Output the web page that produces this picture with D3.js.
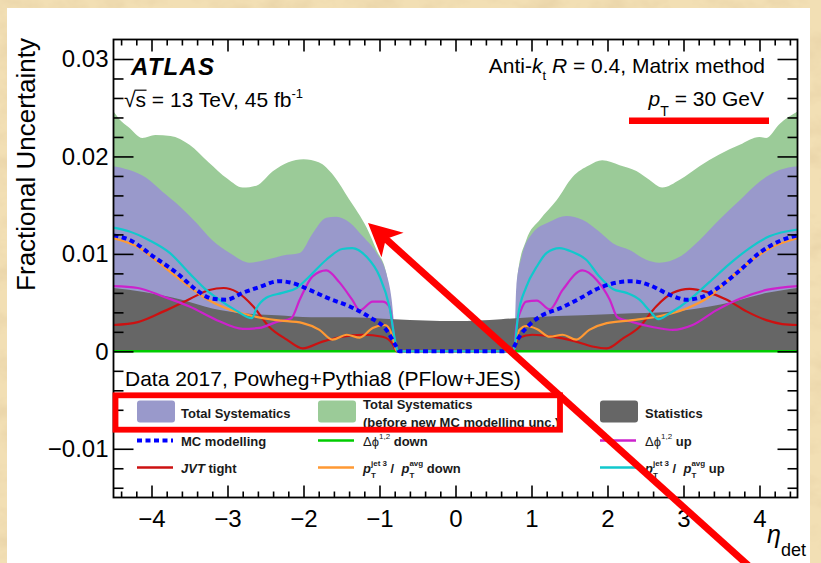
<!DOCTYPE html>
<html>
<head>
<meta charset="utf-8">
<script src="https://cdn.jsdelivr.net/npm/d3@7"></script>
<style>
  html, body { margin: 0; padding: 0; background: #f1dcb0; }
  svg { display: block; }
  text { font-family: "Liberation Sans", Arial, Helvetica, sans-serif; white-space: pre; }
</style>
</head>
<body>
<svg id="chart" width="821" height="563"></svg>
<script>
// ---- axis ticks and labels ----
const xTicks = [-4, -3, -2, -1, 0, 1, 2, 3, 4];
const xTickLabels = ["\u22124", "\u22123", "\u22122", "\u22121", "0", "1", "2", "3", "4"];
const yTicks = [-0.01, 0, 0.01, 0.02, 0.03];
const yTickLabels = ["\u22120.01", "0", "0.01", "0.02", "0.03"];

// ---- uncertainty bands: [eta_det, fractional uncertainty] ----
const totalSystBeforeMC = [
  [-4.5, 0.0246], [-4.42, 0.0238], [-4.3, 0.0230], [-4.12, 0.0219], [-3.95, 0.0222],
  [-3.75, 0.0221], [-3.5, 0.0212], [-3.25, 0.0194], [-3.0, 0.0177], [-2.8, 0.0168],
  [-2.62, 0.0170], [-2.4, 0.0185], [-2.2, 0.0194], [-2.0, 0.0197], [-1.8, 0.0194],
  [-1.6, 0.0180], [-1.4, 0.0156], [-1.17, 0.0127], [-1.04, 0.0104], [-0.91, 0.0080],
  [-0.83, 0.0039], [-0.78, 0], [0.78, 0], [0.82, 0.0080], [0.93, 0.0114],
  [1.11, 0.0135], [1.33, 0.0155], [1.54, 0.0179], [1.76, 0.0191], [1.93, 0.0196],
  [2.16, 0.0191], [2.38, 0.0185], [2.55, 0.0176], [2.72, 0.0168], [2.95, 0.0176],
  [3.21, 0.0190], [3.47, 0.0202], [3.74, 0.0212], [4.0, 0.0220], [4.09, 0.0219],
  [4.26, 0.0233], [4.5, 0.0246]
];
const totalSyst = [
  [-4.5, 0.0190], [-4.29, 0.0186], [-4.07, 0.0178], [-3.86, 0.0164], [-3.63, 0.0149],
  [-3.41, 0.0132], [-3.2, 0.0114], [-2.97, 0.0101], [-2.71, 0.0091], [-2.49, 0.0094],
  [-2.22, 0.0099], [-2.05, 0.0101], [-1.88, 0.0121], [-1.7, 0.0137], [-1.57, 0.0138],
  [-1.39, 0.0132], [-1.22, 0.0118], [-1.04, 0.0101], [-0.91, 0.0080], [-0.84, 0.0053],
  [-0.8, 0.0022], [-0.76, 0], [0.77, 0], [0.8, 0.0066], [0.87, 0.0097],
  [1.01, 0.0121], [1.24, 0.0133], [1.46, 0.0139], [1.67, 0.0135], [1.89, 0.0123],
  [2.07, 0.0111], [2.29, 0.0104], [2.51, 0.0094], [2.68, 0.0091], [2.95, 0.0097],
  [3.21, 0.0114], [3.47, 0.0135], [3.74, 0.0155], [4.0, 0.0174], [4.26, 0.0186],
  [4.5, 0.0190]
];
const statistics = [
  [-4.5, 0.0065], [-4.1, 0.0061], [-3.6, 0.0053], [-3.2, 0.0044], [-2.8, 0.0039],
  [-2.35, 0.0037], [-1.9, 0.0035], [-1.4, 0.0035], [-0.8, 0.0033], [0, 0.0031],
  [0.6, 0.0033], [1.0, 0.0035], [1.67, 0.0037], [2.33, 0.0039], [3.0, 0.0042],
  [3.65, 0.0051], [4.1, 0.0060], [4.5, 0.0065]
];

// ---- individual systematic components ----
const mcModelling = [
  [-4.5, 0.0119], [-4.28, 0.0114], [-3.97, 0.0097], [-3.66, 0.0080], [-3.41, 0.0063],
  [-3.2, 0.0054], [-3.01, 0.0053], [-2.8, 0.0060], [-2.58, 0.0066], [-2.32, 0.0072],
  [-2.14, 0.0070], [-1.92, 0.0063], [-1.66, 0.0054], [-1.39, 0.0046], [-1.13, 0.0035],
  [-0.91, 0.0022], [-0.78, 0.0005], [-0.74, 0], [0.74, 0], [0.76, 0.0003],
  [0.84, 0.0015], [0.97, 0.0027], [1.14, 0.0037], [1.37, 0.0044], [1.63, 0.0054],
  [1.89, 0.0065], [2.16, 0.0071], [2.33, 0.0072], [2.55, 0.0068], [2.82, 0.0058],
  [3.04, 0.0053], [3.25, 0.0056], [3.47, 0.0066], [3.74, 0.0083], [4.0, 0.0101],
  [4.26, 0.0113], [4.5, 0.0119]
];
const dphiDown = [[-4.5, 0], [4.5, 0]];
const dphiUp = [
  [-4.5, 0.0067], [-4.18, 0.0065], [-3.84, 0.0056], [-3.5, 0.0046], [-3.14, 0.0032],
  [-2.8, 0.0023], [-2.58, 0.0024], [-2.36, 0.0030], [-2.16, 0.0034], [-2.05, 0.0053],
  [-1.88, 0.0077], [-1.7, 0.0083], [-1.53, 0.0071], [-1.36, 0.0053], [-1.26, 0.0042],
  [-1.09, 0.0051], [-0.96, 0.0051], [-0.87, 0.0046], [-0.8, 0.0012], [-0.76, 0],
  [0.77, 0], [0.8, 0.0025], [0.86, 0.0042], [0.93, 0.0051], [1.07, 0.0052],
  [1.24, 0.0043], [1.41, 0.0063], [1.67, 0.0083], [1.86, 0.0073], [2.03, 0.0053],
  [2.13, 0.0035], [2.33, 0.0030], [2.59, 0.0025], [2.86, 0.0022], [3.12, 0.0027],
  [3.43, 0.0042], [3.74, 0.0054], [4.09, 0.0063], [4.5, 0.0067]
];
const jvtTight = [
  [-4.5, 0.0027], [-4.18, 0.0030], [-3.84, 0.0041], [-3.49, 0.0054], [-3.24, 0.0063],
  [-3.05, 0.0065], [-2.88, 0.0061], [-2.66, 0.0046], [-2.45, 0.0025], [-2.22, 0.0012],
  [-2.01, 0.0003], [-1.75, 0.0010], [-1.49, 0.0015], [-1.22, 0.0017], [-0.96, 0.0015],
  [-0.83, 0.0008], [-0.77, 0], [0.77, 0], [0.8, 0.0010], [0.84, 0.0014],
  [1.01, 0.0017], [1.28, 0.0015], [1.54, 0.0011], [1.8, 0.0005], [1.99, 0.0003],
  [2.2, 0.0013], [2.42, 0.0025], [2.64, 0.0046], [2.86, 0.0060], [3.08, 0.0064],
  [3.3, 0.0061], [3.57, 0.0053], [3.83, 0.0041], [4.09, 0.0032], [4.3, 0.0028],
  [4.5, 0.0027]
];
const ptRatioDown = [
  [-4.5, 0.0116], [-4.18, 0.0107], [-3.89, 0.0090], [-3.58, 0.0071], [-3.28, 0.0054],
  [-3.01, 0.0044], [-2.71, 0.0037], [-2.36, 0.0032], [-2.01, 0.0029], [-1.79, 0.0022],
  [-1.62, 0.0012], [-1.43, 0.0017], [-1.26, 0.0014], [-1.09, 0.0024], [-0.93, 0.0027],
  [-0.84, 0.0018], [-0.78, 0.0001], [-0.76, 0], [0.76, 0], [0.78, 0.0005],
  [0.84, 0.0022], [0.93, 0.0026], [1.07, 0.0023], [1.24, 0.0015], [1.41, 0.0017],
  [1.59, 0.0012], [1.76, 0.0022], [1.99, 0.0029], [2.33, 0.0032], [2.68, 0.0036],
  [3.04, 0.0044], [3.34, 0.0056], [3.64, 0.0077], [3.91, 0.0094], [4.17, 0.0107],
  [4.5, 0.0116]
];
const ptRatioUp = [
  [-4.5, 0.0127], [-4.29, 0.0123], [-4.03, 0.0114], [-3.76, 0.0101], [-3.5, 0.0080],
  [-3.28, 0.0063], [-3.11, 0.0053], [-2.89, 0.0042], [-2.68, 0.0034], [-2.62, 0.0044],
  [-2.49, 0.0055], [-2.28, 0.0060], [-2.09, 0.0065], [-1.92, 0.0077], [-1.7, 0.0094],
  [-1.49, 0.0105], [-1.36, 0.0106], [-1.17, 0.0097], [-1.0, 0.0077], [-0.87, 0.0046],
  [-0.78, 0.0005], [-0.76, 0], [0.76, 0], [0.78, 0.0005], [0.82, 0.0035],
  [0.93, 0.0066], [1.07, 0.0087], [1.2, 0.0101], [1.37, 0.0106], [1.54, 0.0102],
  [1.72, 0.0094], [1.89, 0.0077], [2.07, 0.0064], [2.25, 0.0060], [2.42, 0.0053],
  [2.55, 0.0042], [2.67, 0.0033], [2.82, 0.0039], [3.08, 0.0053], [3.34, 0.0071],
  [3.61, 0.0090], [3.87, 0.0106], [4.13, 0.0118], [4.5, 0.0125]
];

// ---- colours ----
const colBefore = "#9bcb98", colTotal = "#9999cb", colStat = "#666666";
const colMC = "#0000ff", colDphiDown = "#00cc00", colDphiUp = "#cc22cc";
const colJVT = "#cc1111", colPtDown = "#ff9933", colPtUp = "#11c8cc";
const annot = "#ff0000";

// ---- layout ----
const frame = { left: 113.5, right: 797.5, top: 39.5, bottom: 497.5 };
const svg = d3.select("#chart");

const x = d3.scaleLinear().domain([-4.5, 4.5]).range([frame.left, frame.right]);
const y = d3.scaleLinear().domain([-0.015, 0.032]).range([frame.bottom, frame.top]);

// parchment surround
const defs = svg.append("defs");
const paper = defs.append("filter").attr("id", "paper")
  .attr("x", 0).attr("y", 0).attr("width", "100%").attr("height", "100%");
paper.append("feTurbulence").attr("type", "fractalNoise")
  .attr("baseFrequency", "0.03 0.045").attr("numOctaves", 4).attr("seed", 7);
paper.append("feColorMatrix").attr("type", "matrix")
  .attr("values", "0 0 0 0 0.80  0 0 0 0 0.64  0 0 0 0 0.38  1.7 0 0 0 -0.72");
svg.append("rect").attr("width", 821).attr("height", 563).attr("fill", "#f2dfb4");
svg.append("rect").attr("width", 821).attr("height", 563).attr("filter", "url(#paper)");

// white canvas
svg.append("rect").attr("x", 7).attr("y", 8).attr("width", 803).attr("height", 560).attr("fill", "#ffffff");

defs.append("clipPath").attr("id", "plotClip").append("rect")
  .attr("x", frame.left).attr("y", frame.top)
  .attr("width", frame.right - frame.left).attr("height", frame.bottom - frame.top);

const plot = svg.append("g").attr("clip-path", "url(#plotClip)");

const area = d3.area().x(d => x(d[0])).y0(y(0)).y1(d => y(d[1])).curve(d3.curveMonotoneX);
const line = d3.line().x(d => x(d[0])).y(d => y(d[1])).curve(d3.curveMonotoneX);

plot.append("path").datum(totalSystBeforeMC).attr("d", area).attr("fill", colBefore);
plot.append("path").datum(totalSyst).attr("d", area).attr("fill", colTotal);
plot.append("path").datum(statistics).attr("d", area).attr("fill", colStat);

const lineSeries = [
  { data: dphiDown, color: colDphiDown, width: 2.5 },
  { data: jvtTight, color: colJVT, width: 2.2 },
  { data: dphiUp, color: colDphiUp, width: 2.2 },
  { data: ptRatioDown, color: colPtDown, width: 2.2 },
  { data: ptRatioUp, color: colPtUp, width: 2.2 },
  { data: mcModelling, color: colMC, width: 4, dash: "5 3.5" }
];
lineSeries.forEach(s => {
  plot.append("path").datum(s.data).attr("d", line)
    .attr("fill", "none").attr("stroke", s.color).attr("stroke-width", s.width)
    .attr("stroke-dasharray", s.dash || null);
});

// ---- frame and ticks ----
const axisStyle = g => {
  g.select(".domain").remove();
  g.selectAll("line").attr("stroke", "#000").attr("stroke-width", 1.6);
  g.selectAll("text").attr("fill", "#000").attr("font-size", 24)
    .attr("font-family", "\"Liberation Sans\", Arial, Helvetica, sans-serif");
};
const xMinor = d3.range(-44, 45, 2).filter(v => v % 10 !== 0).map(v => v / 10);
const yMinor = d3.range(-14, 31, 2).filter(v => v % 10 !== 0).map(v => v / 1000);

svg.append("g").attr("transform", `translate(0,${frame.bottom})`)
  .call(d3.axisBottom(x).tickValues(xTicks).tickSize(-12).tickPadding(12)
    .tickFormat((d, i) => xTickLabels[i])).call(axisStyle);
svg.append("g").attr("transform", `translate(0,${frame.bottom})`)
  .call(d3.axisBottom(x).tickValues(xMinor).tickSize(-6).tickFormat("")).call(axisStyle);
svg.append("g").attr("transform", `translate(0,${frame.top})`)
  .call(d3.axisTop(x).tickValues(xTicks).tickSize(-12).tickFormat("")).call(axisStyle);
svg.append("g").attr("transform", `translate(0,${frame.top})`)
  .call(d3.axisTop(x).tickValues(xMinor).tickSize(-6).tickFormat("")).call(axisStyle);

svg.append("g").attr("transform", `translate(${frame.left},0)`)
  .call(d3.axisLeft(y).tickValues(yTicks).tickSize(-20).tickPadding(5)
    .tickFormat((d, i) => yTickLabels[i])).call(axisStyle);
svg.append("g").attr("transform", `translate(${frame.left},0)`)
  .call(d3.axisLeft(y).tickValues(yMinor).tickSize(-10).tickFormat("")).call(axisStyle);
svg.append("g").attr("transform", `translate(${frame.right},0)`)
  .call(d3.axisRight(y).tickValues(yTicks).tickSize(-20).tickFormat("")).call(axisStyle);
svg.append("g").attr("transform", `translate(${frame.right},0)`)
  .call(d3.axisRight(y).tickValues(yMinor).tickSize(-10).tickFormat("")).call(axisStyle);

svg.append("rect").attr("x", frame.left).attr("y", frame.top)
  .attr("width", frame.right - frame.left).attr("height", frame.bottom - frame.top)
  .attr("fill", "none").attr("stroke", "#000").attr("stroke-width", 1.8);

// ---- rich text helper: pieces laid out left to right, sub/superscripts may stack ----
function rich(parent, px, py, pieces, opts) {
  const g = parent.append("g");
  let cursor = 0, prevStart = 0;
  pieces.forEach(p => {
    const start = p.stack ? prevStart : cursor;
    const bold = p.bold !== undefined ? p.bold : !!opts.bold;
    const size = p.size || opts.size;
    const t = g.append("text")
      .attr("x", start).attr("y", p.dy || 0)
      .attr("font-size", size)
      .attr("font-weight", bold ? "bold" : "normal")
      .attr("font-style", p.italic ? "italic" : "normal")
      .attr("letter-spacing", p.spacing || null)
      .attr("fill", opts.fill || "#000")
      .text(p.t);
    const w = t.node().getComputedTextLength();
    if (p.overline) {
      g.append("line").attr("x1", start - 1).attr("x2", start + w + 0.5)
        .attr("y1", -size * 0.8).attr("y2", -size * 0.8)
        .attr("stroke", opts.fill || "#000").attr("stroke-width", 1.2);
    }
    if (p.stack) {
      cursor = Math.max(cursor, start + w);
    } else {
      prevStart = start;
      cursor = start + w;
    }
  });
  const tx = opts.anchor === "end" ? px - cursor : px;
  g.attr("transform", `translate(${tx},${py})`);
  return g;
}

// ---- axis titles ----
svg.append("text")
  .attr("transform", "translate(35,38) rotate(-90)")
  .attr("text-anchor", "end").attr("font-size", 26).attr("fill", "#000")
  .text("Fractional Uncertainty");
rich(svg, 806, 543, [
  { t: "\u03b7", italic: true, size: 25 },
  { t: "det", size: 18, dy: 13 }
], { size: 25, anchor: "end" });

// ---- labels inside the frame ----
rich(svg, 131, 75, [{ t: "ATLAS", italic: true, bold: true, spacing: 1.2 }], { size: 24 });
rich(svg, 124, 107, [
  { t: "\u221a" }, { t: "s", overline: true },
  { t: " = 13 TeV, 45 fb" },
  { t: "-1", size: 13, dy: -9 }
], { size: 21 });
rich(svg, 765, 73, [
  { t: "Anti-" }, { t: "k", italic: true }, { t: "t", size: 13, dy: 7 },
  { t: " " }, { t: "R", italic: true }, { t: " = 0.4, Matrix method" }
], { size: 21, anchor: "end" });
rich(svg, 764, 106, [
  { t: "p", italic: true }, { t: "T", size: 14, dy: 10 }, { t: " = 30 GeV" }
], { size: 21, anchor: "end" });

rich(svg, 125, 386, [{ t: "Data 2017, Powheg+Pythia8 (PFlow+JES)" }], { size: 21 });

// ---- legend ----
const leg = svg.append("g");
const legFont = { size: 13, bold: true, fill: "#1a1a1a" };
const cols = [{ sym: 137, txt: 181 }, { sym: 318, txt: 363 }, { sym: 600, txt: 645 }];
const rows = [412, 440.5, 467.5];

const boxEntries = [
  { col: 0, color: colTotal, text: [[{ t: "Total Systematics" }]] },
  { col: 1, color: colBefore, text: [[{ t: "Total Systematics" }], [{ t: "(before new MC modelling unc.)" }]] },
  { col: 2, color: colStat, text: [[{ t: "Statistics" }]] }
];
boxEntries.forEach(e => {
  const c = cols[e.col];
  leg.append("rect").attr("x", c.sym).attr("y", rows[0] - 11.5)
    .attr("width", 38).attr("height", 22).attr("rx", 3).attr("fill", e.color);
  if (e.text.length === 1) {
    rich(leg, c.txt, rows[0] + 6, e.text[0], legFont);
  } else {
    rich(leg, c.txt, rows[0] - 3, e.text[0], legFont);
    rich(leg, c.txt, rows[0] + 14.5, e.text[1], legFont);
  }
});

const ptRatio = tail => [
  { t: "p", italic: true }, { t: "T", size: 8, dy: 5 }, { t: "jet 3", size: 8, dy: -7, stack: true },
  { t: " /  " },
  { t: "p", italic: true }, { t: "T", size: 8, dy: 5 }, { t: "avg", size: 8, dy: -7, stack: true },
  { t: tail }
];
const dphi = tail => [
  { t: "\u0394\u03d5", bold: false }, { t: "1,2", size: 8, dy: -7, bold: false }, { t: tail }
];
const lineEntries = [
  { col: 0, row: 1, color: colMC, width: 4, dash: "5 3.5", text: [{ t: "MC modelling" }] },
  { col: 1, row: 1, color: colDphiDown, width: 2.5, text: dphi(" down") },
  { col: 2, row: 1, color: colDphiUp, width: 2.5, text: dphi(" up") },
  { col: 0, row: 2, color: colJVT, width: 2.5, text: [{ t: "JVT", italic: true }, { t: " tight" }] },
  { col: 1, row: 2, color: colPtDown, width: 2.5, text: ptRatio(" down") },
  { col: 2, row: 2, color: colPtUp, width: 2.5, text: ptRatio(" up") }
];
lineEntries.forEach(e => {
  const c = cols[e.col], ry = rows[e.row];
  leg.append("line").attr("x1", c.sym).attr("x2", c.sym + 36).attr("y1", ry).attr("y2", ry)
    .attr("stroke", e.color).attr("stroke-width", e.width).attr("stroke-dasharray", e.dash || null);
  rich(leg, c.txt, ry + 5, e.text, legFont);
});

// ---- highlight marks ----
const marks = svg.append("g");
marks.append("line").attr("x1", 629).attr("x2", 769).attr("y1", 120.7).attr("y2", 120.7)
  .attr("stroke", annot).attr("stroke-width", 6.5);
marks.append("rect").attr("x", 115.5).attr("y", 395.3).attr("width", 444.5).attr("height", 34.4)
  .attr("fill", "none").attr("stroke", annot).attr("stroke-width", 5.8);

const tip = [368, 223], tail = [750, 567];
const len = Math.hypot(tail[0] - tip[0], tail[1] - tip[1]);
const ux = (tail[0] - tip[0]) / len, uy = (tail[1] - tip[1]) / len;
const headLen = 33, headHalf = 16.5, notch = 24;
const P = (a, b) => [tip[0] + ux * a - uy * b, tip[1] + uy * a + ux * b];
marks.append("line")
  .attr("x1", P(notch - 2, 0)[0]).attr("y1", P(notch - 2, 0)[1])
  .attr("x2", tail[0]).attr("y2", tail[1])
  .attr("stroke", annot).attr("stroke-width", 7);
marks.append("path")
  .attr("d", "M" + [tip, P(headLen, headHalf), P(notch, 0), P(headLen, -headHalf)].map(p => p.join(",")).join("L") + "Z")
  .attr("fill", annot);
</script>
</body>
</html>
